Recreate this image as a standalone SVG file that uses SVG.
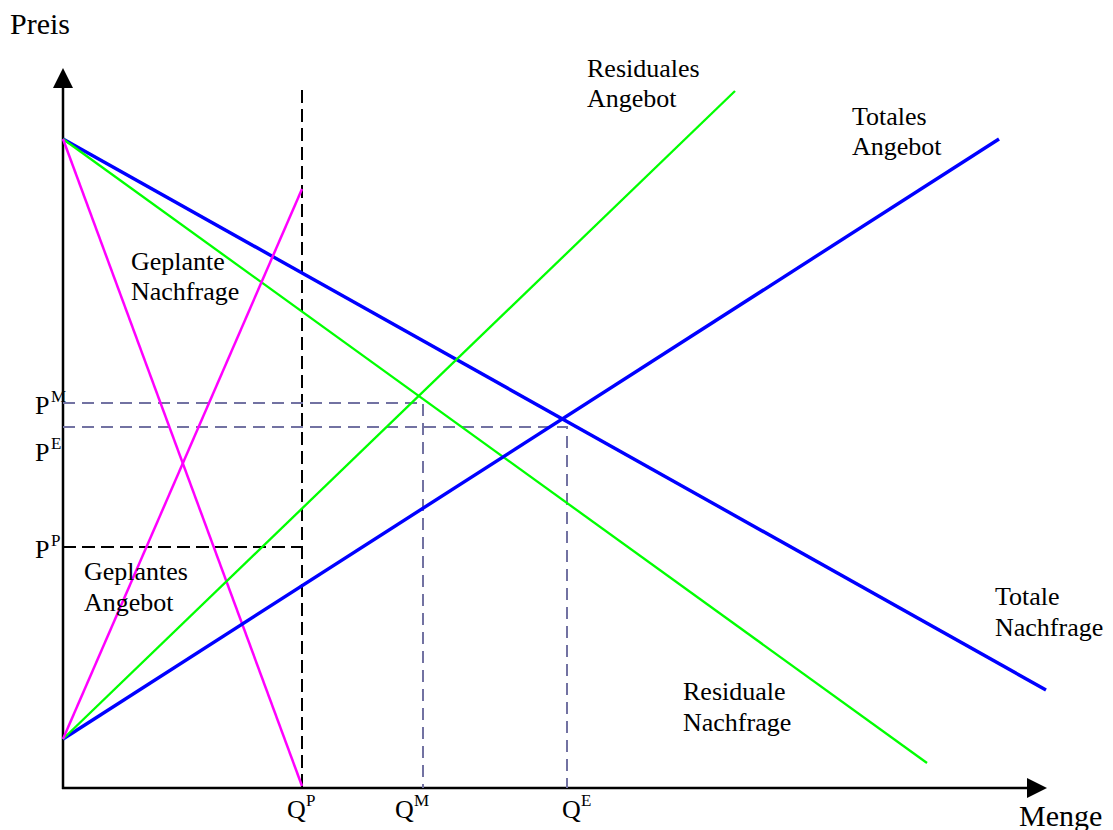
<svg xmlns="http://www.w3.org/2000/svg" width="1113" height="830" viewBox="0 0 1113 830">
<style>
text{font-family:"Liberation Serif","DejaVu Serif","Times New Roman",serif;fill:#000}
.lbl{font-size:26px}
.ax{font-size:30px}
.sup{font-size:17px}
.axis{stroke:#000;stroke-width:2.5;fill:none}
.blue{stroke:#0000ff;stroke-width:3.4;fill:none}
.green{stroke:#00ff00;stroke-width:2.3;fill:none}
.mag{stroke:#ff00ff;stroke-width:2.5;fill:none}
.dblack{stroke:#000;stroke-width:2;stroke-dasharray:13,6;fill:none}
.dgray{stroke:#7272a2;stroke-width:2;stroke-dasharray:12,7;fill:none}
</style>
<rect width="1113" height="830" fill="#fff"/>
<g id="axes">
<line class="axis" x1="63" y1="789" x2="63" y2="85"/>
<polygon points="63,68 53,88 73,88" fill="#000"/>
<line class="axis" x1="62" y1="788" x2="1030" y2="788"/>
<polygon points="1047,788 1027,778 1027,798" fill="#000"/>
</g>
<g id="connectors">
<line class="dblack" x1="302" y1="90" x2="302" y2="788"/>
<line class="dblack" x1="63" y1="547" x2="302" y2="547"/>
<polyline class="dgray" points="63,403 423,403 423,788"/>
<polyline class="dgray" points="63,427 567,427 567,788"/>
<line id="totale-nachfrage" class="blue" x1="63" y1="139" x2="1046" y2="690"/>
<line id="residuale-nachfrage" class="green" x1="63" y1="139" x2="927" y2="763"/>
<line id="geplante-nachfrage" class="mag" x1="63" y1="139" x2="302" y2="786"/>
<line id="totales-angebot" class="blue" x1="63" y1="739" x2="999" y2="139"/>
<line id="residuales-angebot" class="green" x1="63" y1="739" x2="735" y2="91"/>
<line id="geplantes-angebot" class="mag" x1="63" y1="739" x2="302" y2="189"/>
</g>
<g id="labels">
<text class="ax" x="10" y="34">Preis</text>
<text class="ax" x="1019" y="826">Menge</text>
<text class="lbl" x="587" y="77">Residuales</text>
<text class="lbl" x="587" y="107">Angebot</text>
<text class="lbl" x="852" y="125">Totales</text>
<text class="lbl" x="852" y="155">Angebot</text>
<text class="lbl" x="131" y="270">Geplante</text>
<text class="lbl" x="131" y="300">Nachfrage</text>
<text class="lbl" x="84" y="580">Geplantes</text>
<text class="lbl" x="84" y="611">Angebot</text>
<text class="lbl" x="995" y="605">Totale</text>
<text class="lbl" x="995" y="636">Nachfrage</text>
<text class="lbl" x="683" y="700">Residuale</text>
<text class="lbl" x="683" y="731">Nachfrage</text>
<text class="lbl" x="35" y="414">P</text><text class="sup" x="51" y="402">M</text>
<text class="lbl" x="35" y="461">P</text><text class="sup" x="51" y="449">E</text>
<text class="lbl" x="35" y="558">P</text><text class="sup" x="51" y="546">P</text>
<text class="lbl" x="287" y="818">Q</text><text class="sup" x="306" y="806">P</text>
<text class="lbl" x="395" y="818">Q</text><text class="sup" x="414" y="806">M</text>
<text class="lbl" x="562" y="818">Q</text><text class="sup" x="581" y="806">E</text>
</g>
</svg>
